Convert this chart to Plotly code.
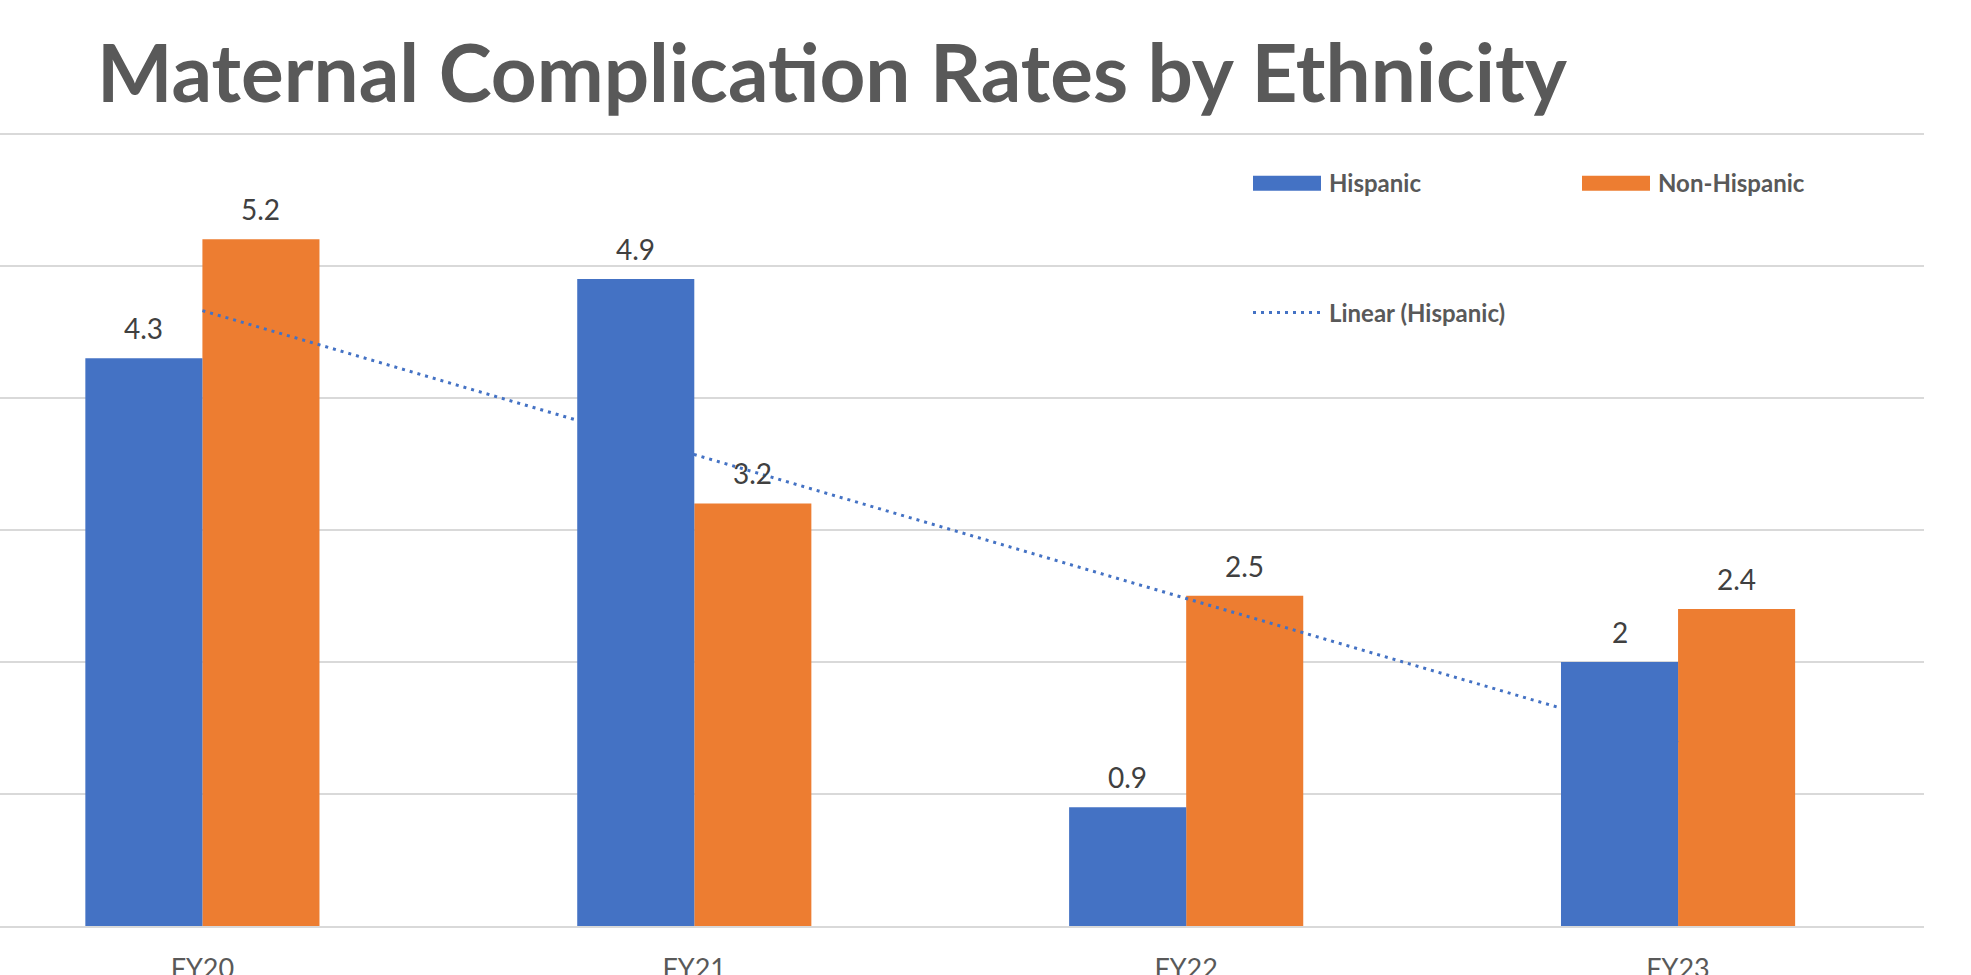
import numpy as np
import plotly.graph_objects as go

# ---------------- data ----------------
categories = ["FY20", "FY21", "FY22", "FY23"]
hispanic = [4.3, 4.9, 0.9, 2.0]
non_hispanic = [5.2, 3.2, 2.5, 2.4]
series_names = ["Hispanic", "Non-Hispanic"]
trend_name = "Linear (Hispanic)"
title_text = "Maternal Complication Rates by Ethnicity"
y_ticks = [0, 1, 2, 3, 4, 5, 6]

# ---------------- style ----------------
BLUE = "#4472C4"
ORANGE = "#ED7D31"
GRID = "#D9D9D9"
TXT = "#595959"
LBL = "#404040"
FONT = "Lato"
W, H = 1971, 975
UNIT = 132.08                      # px per y unit
Y_TOP_PAD = 0.02                   # keeps the top gridline inside the plot
PLOT_L, PLOT_R, PLOT_B = 0, 1924, 926.5
PLOT_T = 134 - Y_TOP_PAD * UNIT
BARGAP = 0.524
BAR_W = (1 - BARGAP) / 2
X_RANGE = [-0.4115, len(categories) - 0.5]
Y_RANGE = [0, 6 + Y_TOP_PAD]


def xp(px):
    return (px - PLOT_L) / (PLOT_R - PLOT_L)


def yp(py):
    return (PLOT_B - py) / (PLOT_B - PLOT_T)


# linear trendline of the Hispanic series (as a spreadsheet trendline does)
idx = np.arange(1, len(categories) + 1)
slope, intercept = np.polyfit(idx, hispanic, 1)
trend = slope * idx + intercept

fig = go.Figure()

# orange bars on the main axes (beneath the trendline)
fig.add_trace(go.Bar(
    x=categories, y=non_hispanic, name=series_names[1],
    marker=dict(color=ORANGE, line=dict(width=0)),
    width=BAR_W, offset=0, xaxis="x", yaxis="y", showlegend=False,
))

# trendline on the main axes
fig.add_trace(go.Scatter(
    x=categories, y=trend, mode="lines", name=trend_name,
    line=dict(color=BLUE, width=3, dash="3px,5px"),
    xaxis="x", yaxis="y", showlegend=False, hoverinfo="skip",
))

# blue bars on the overlaid axes (drawn on top of the trendline)
fig.add_trace(go.Bar(
    x=categories, y=hispanic, name=series_names[0],
    marker=dict(color=BLUE, line=dict(width=0)),
    width=BAR_W, offset=-BAR_W, xaxis="x2", yaxis="y2", showlegend=False,
))

# data labels
off = BAR_W / 2
annotations = []
for i, cat in enumerate(categories):
    for sgn, vals in [(-1, hispanic), (1, non_hispanic)]:
        annotations.append(dict(
            x=i + sgn * off, y=vals[i], xref="x", yref="y",
            text=f"{vals[i]:g}", showarrow=False, yanchor="middle", xanchor="center",
            yshift=30, font=dict(family=FONT, size=28, color=LBL),
        ))

# legend (manual, to reproduce wide swatches)
shapes = [
    dict(type="rect", xref="paper", yref="paper",
         x0=xp(1253), x1=xp(1321), y0=yp(191), y1=yp(176),
         fillcolor=BLUE, line=dict(width=0)),
    dict(type="rect", xref="paper", yref="paper",
         x0=xp(1582), x1=xp(1650), y0=yp(191), y1=yp(176),
         fillcolor=ORANGE, line=dict(width=0)),
    dict(type="line", xref="paper", yref="paper",
         x0=xp(1253), x1=xp(1322), y0=yp(313), y1=yp(313),
         line=dict(color=BLUE, width=3, dash="3px,5px")),
]
for txt, px, py in [(series_names[0], 1327, 183), (series_names[1], 1656, 183),
                    (trend_name, 1327, 313)]:
    annotations.append(dict(
        x=xp(px), y=yp(py), xref="paper", yref="paper", text=f"<b>{txt}</b>",
        showarrow=False, xanchor="left", yanchor="middle",
        font=dict(family=FONT, size=24, color=TXT),
    ))

fig.update_layout(
    width=W, height=H, autosize=False,
    paper_bgcolor="white", plot_bgcolor="white",
    margin=dict(l=PLOT_L, r=W - PLOT_R, t=PLOT_T, b=H - PLOT_B, pad=0,
                autoexpand=False),
    barmode="overlay",
    title=dict(text=f"<b>{title_text}</b>", x=97 / W, xanchor="left", xref="container",
               y=1 - 74 / H, yanchor="middle", yref="container",
               font=dict(family=FONT, size=80, color=TXT)),
    xaxis=dict(type="category", categoryorder="array", categoryarray=categories,
               range=X_RANGE, showgrid=False, zeroline=False, showline=True,
               linecolor=GRID, linewidth=2, ticks="", ticklabelstandoff=18,
               automargin=False,
               tickfont=dict(family=FONT, size=27, color=TXT)),
    yaxis=dict(range=Y_RANGE, tickvals=y_ticks, showgrid=True, gridcolor=GRID,
               gridwidth=1.5, zeroline=False, showline=False, showticklabels=False,
               ticks="", automargin=False),
    xaxis2=dict(type="category", categoryorder="array", categoryarray=categories,
                range=X_RANGE, overlaying="x", anchor="y2", visible=False,
                automargin=False),
    yaxis2=dict(range=Y_RANGE, overlaying="y", anchor="x2", visible=False,
                automargin=False),
    shapes=shapes, annotations=annotations,
    font=dict(family=FONT, color=TXT),
)

fig.write_html("out.html")
